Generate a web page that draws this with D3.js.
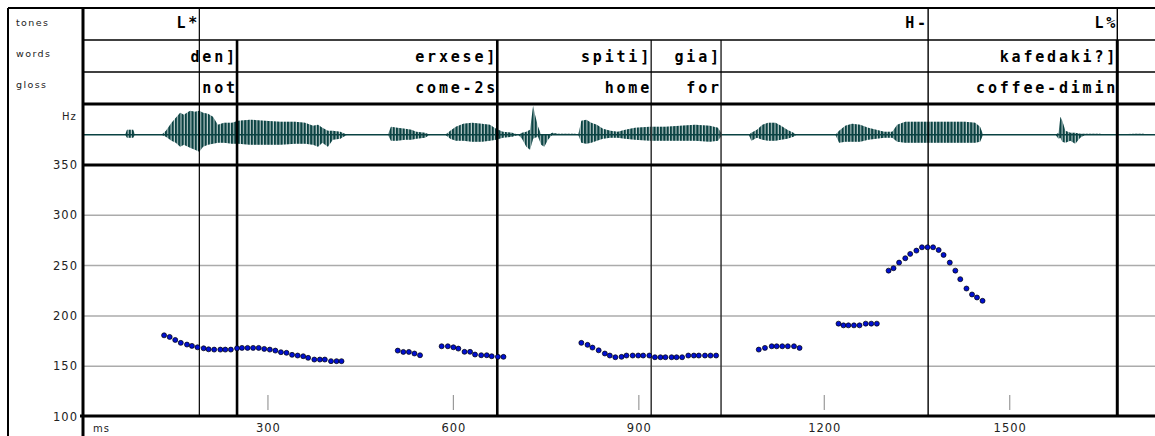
<!DOCTYPE html>
<html><head><meta charset="utf-8">
<script src="https://cdn.jsdelivr.net/npm/d3@7"></script>
<style>html,body{margin:0;padding:0;background:#fff;} svg{display:block;}</style>
</head><body><svg id="chart" width="1155" height="436"></svg>
<script>
// ---------------- data ----------------
const tierNames = ["tones", "words", "gloss"];
const toneLabels = ["L*", "H-", "L%"];
const toneTimes = [189, 1368, 1674];
const wordLabels = ["den]", "erxese]", "spiti]", "gia]", "kafedaki?]"];
const wordTimes = [250, 671, 920, 1033, 1674];
const glossLabels = ["not", "come-2s", "home", "for", "coffee-dimin"];
const hzTicks = [100, 150, 200, 250, 300, 350];
const msTicks = [300, 600, 900, 1200, 1500];

const pitchTime = [132,141,150,159,169,177,186,196,204,213,223,231,240,250,258,267,276,285,294,303,312,321,330,339,348,357,365,375,384,392,402,411,419,
  510,519,528,537,546,
  581,591,600,608,618,627,635,645,654,662,672,681,
  807,817,825,835,845,853,862,872,880,890,899,907,917,926,935,943,953,961,970,980,989,997,1007,1016,1025,
  1094,1104,1115,1123,1132,1141,1151,1160,
  1223,1231,1239,1248,1257,1267,1276,1285,
  1304,1312,1321,1331,1339,1349,1358,1367,1376,1385,1393,1403,1412,1420,1430,1439,1447,1456];
const pitchHz = [180.7,179.1,176.1,173.2,171.5,170.2,168.8,167.8,166.8,166.5,166.5,166.5,166.5,167.8,168.2,168.2,168.2,168.2,167.2,166.5,165.5,163.9,163.3,161.3,160.6,159.9,158.3,156.6,156.6,156.6,155.0,155.0,155.0,
  165.5,164.2,164.2,162.6,160.9,
  169.8,169.8,168.8,167.5,164.3,164.3,161.6,160.9,160.9,159.9,159.3,159.3,
  173.2,171.2,168.5,165.8,162.6,160.6,158.9,159.3,160.6,160.6,160.6,160.6,160.6,158.9,158.9,158.9,158.9,158.9,158.9,160.6,160.6,160.6,160.6,160.6,160.6,
  166.5,168.2,169.8,169.8,169.8,169.8,169.8,168.2,
  192.3,190.6,190.6,190.6,190.6,192.3,192.3,192.3,
  245.0,247.4,253.0,257.3,261.6,264.9,268.2,268.2,268.2,265.5,260.6,253.0,245.0,236.5,227.2,221.3,218.3,215.0];

// waveform envelope (time in ms, positive and negative amplitude, arbitrary units)
const waveTime = [69,72,82,85,
  128,135,144,151,158,164,174,182,189,195,203,211,219,229,242,252,271,295,320,344,360,373,381,388,397,405,417,428,
  494,499,509,522,532,540,554,562,
  587,595,604,616,630,646,659,669,680,695,705,711,718,724,729,732,737,742,747,753,760,769,797,802,
  807,815,823,832,842,854,866,878,894,918,943,967,991,1015,1028,1035,
  1078,1082,1091,1100,1109,1121,1130,1140,1150,1155,
  1218,1224,1234,1245,1258,1271,1284,1297,1310,1318,1331,1355,1379,1404,1428,1444,1452,1457,
  1574,1579,1582,1585,1590,1598,1606,1614,1622,1646,1653,1703,1716,1724];
const waveUp = [0,5,5,0,
  0,4,12,17,22,20,24,23,24,22,21,18,10,12,12,14,15,14,13,13,12,9,10,7,4,4,3,0,
  0,8,7,6,5,3,2,0,
  0,4,8,11,12,11,10,6,3,2,0,2,3,5,29,20,8,0,0,0,2,1,1,0,
  14,15,12,10,6,4,3,5,7,8,8,9,10,9,7,0,
  0,2,5,10,12,12,9,5,2,0,
  0,4,9,11,10,7,5,3,3,10,13,13,13,13,13,12,8,0,
  0,2,18,14,4,2,2,1,1,1,0,1,1,0];
const waveDown = [0,3,3,0,
  0,2,6,8,12,10,13,15,17,12,10,9,8,8,9,9,10,10,10,9,9,10,12,8,12,5,4,0,
  0,6,6,5,5,4,3,0,
  0,4,6,6,7,7,6,5,3,2,0,4,12,15,4,3,2,10,12,5,0,0,0,0,
  8,9,8,6,4,3,3,4,5,6,6,6,6,7,6,0,
  0,6,3,5,6,6,5,4,2,0,
  0,8,7,7,7,5,4,3,3,7,8,8,8,8,8,8,7,0,
  0,4,3,7,8,6,9,3,0,0,0,0,0,0];

// ---------------- layout ----------------
const W = 1155, H = 436;
const colL = 8, plotL = 83, topY = 8;
const rowBottoms = [40, 72, 104];
const svg = d3.select("#chart");
svg.append("rect").attr("width", W).attr("height", H).attr("fill", "#fff");

const x = d3.scaleLinear().domain([0, 1735]).range([82.5, 1155]);
const y = d3.scaleLinear().domain([100, 350]).range([416.5, 165]);
const yWave = d3.scaleLinear().domain([-30, 30]).range([164.7, 104.7]);

const defs = svg.append("defs");
const pat = defs.append("pattern").attr("id", "stripes").attr("patternUnits", "userSpaceOnUse")
  .attr("width", 3.3).attr("height", 10);
pat.append("rect").attr("width", 2.2).attr("height", 10).attr("fill", "#0a4242");

// gridlines
svg.append("g").selectAll("line").data(hzTicks.filter(v => v > 100 && v < 350)).join("line")
  .attr("x1", plotL + 1).attr("x2", W).attr("y1", d => y(d)).attr("y2", d => y(d))
  .attr("stroke", "#ababab").attr("stroke-width", 1.5);

// ms tick marks
svg.append("g").selectAll("line").data(msTicks).join("line")
  .attr("x1", d => x(d)).attr("x2", d => x(d)).attr("y1", 395).attr("y2", 410)
  .attr("stroke", "#9a9a9a").attr("stroke-width", 1.2);

// waveform
const waveData = waveTime.map((t, i) => ({ t, up: waveUp[i], down: waveDown[i] }));
svg.append("line").attr("x1", plotL).attr("x2", W).attr("y1", yWave(0)).attr("y2", yWave(0))
  .attr("stroke", "#0a4242").attr("stroke-width", 1.5);
const area = d3.area().x(d => x(d.t)).y0(d => yWave(-d.down)).y1(d => yWave(d.up));
svg.append("path").datum(waveData).attr("d", area).attr("fill", "#0a4242").attr("opacity", 0.25);
svg.append("path").datum(waveData).attr("d", area).attr("fill", "url(#stripes)");

// boundary lines
const toneW = [1.2, 1.4, 1.4];
const wordW = [2.6, 2.6, 1.5, 1.5, 3];
const wordC = ["#000", "#000", "#333", "#333", "#000"];
svg.append("g").selectAll("line").data(toneTimes).join("line")
  .attr("x1", d => x(d)).attr("x2", d => x(d)).attr("y1", topY).attr("y2", 416)
  .attr("stroke", "#000").attr("stroke-width", (d, i) => toneW[i]);
svg.append("g").selectAll("line").data(wordTimes).join("line")
  .attr("x1", d => x(d)).attr("x2", d => x(d)).attr("y1", rowBottoms[0]).attr("y2", 416)
  .attr("stroke", (d, i) => wordC[i]).attr("stroke-width", (d, i) => wordW[i]);

// frame lines
const hl = (x1, x2, yy, w) => svg.append("line").attr("x1", x1).attr("x2", x2).attr("y1", yy).attr("y2", yy)
  .attr("stroke", "#000").attr("stroke-width", w);
hl(colL, W, topY, 2);
hl(plotL, W, rowBottoms[0], 1.5);
hl(plotL, W, rowBottoms[1], 1.5);
hl(plotL, W, rowBottoms[2], 3);
hl(plotL, W, y(350), 3);
hl(plotL - 3, W, y(100) - 0.5, 3);
svg.append("line").attr("x1", colL).attr("x2", colL).attr("y1", topY).attr("y2", H).attr("stroke", "#000").attr("stroke-width", 2);
svg.append("line").attr("x1", plotL).attr("x2", plotL).attr("y1", topY).attr("y2", H).attr("stroke", "#000").attr("stroke-width", 3);

// pitch points
svg.append("g").selectAll("circle").data(pitchTime.map((t, i) => [t, pitchHz[i]])).join("circle")
  .attr("cx", d => x(d[0])).attr("cy", d => y(d[1])).attr("r", 2.5)
  .attr("fill", "#0010d0").attr("stroke", "#000").attr("stroke-width", 0.7);

// tier texts
const tierFont = "'DejaVu Sans Mono', monospace";
const ls = 2.8;
const baseY = [28, 61.5, 93];
function tier(labels, times, by) {
  svg.append("g").selectAll("text").data(labels).join("text")
    .attr("x", (d, i) => x(times[i]) - 2 + ls).attr("y", by)
    .attr("text-anchor", "end").attr("font-family", tierFont).attr("font-weight", "bold")
    .attr("font-size", 15).attr("letter-spacing", ls).attr("fill", "#000").text(d => d);
}
tier(toneLabels, toneTimes, baseY[0]);
tier(wordLabels, wordTimes, baseY[1]);
tier(glossLabels, glossLabels.map((d, i) => wordTimes[i]), baseY[2]);

// tier names
svg.append("g").selectAll("text").data(tierNames).join("text")
  .attr("x", 16).attr("y", (d, i) => [26, 57, 88][i])
  .attr("font-family", "'DejaVu Sans', sans-serif").attr("font-size", 9.5).attr("letter-spacing", 1.4)
  .attr("fill", "#222").text(d => d);

// axes
const axFont = "'DejaVu Sans', sans-serif";
const yAxis = svg.append("g").attr("transform", "translate(78,0)")
  .call(d3.axisLeft(y).tickValues(hzTicks).tickSize(0).tickPadding(0).tickFormat(d3.format("d")));
yAxis.select(".domain").remove();
yAxis.selectAll("text").attr("font-family", axFont).attr("font-size", 11.5).attr("letter-spacing", 1).attr("fill", "#222");

const xAxis = svg.append("g").attr("transform", "translate(0,416)")
  .call(d3.axisBottom(x).tickValues(msTicks).tickSize(0).tickPadding(8).tickFormat(d3.format("d")));
xAxis.select(".domain").remove();
xAxis.selectAll("text").attr("font-family", axFont).attr("font-size", 11.5).attr("letter-spacing", 1).attr("fill", "#222");

svg.append("text").attr("x", 62).attr("y", 120).attr("font-family", axFont).attr("font-size", 10)
  .attr("letter-spacing", 1).attr("fill", "#222").text("Hz");
svg.append("text").attr("x", 93).attr("y", 432).attr("font-family", axFont).attr("font-size", 10)
  .attr("letter-spacing", 1).attr("fill", "#222").text("ms");
</script></body></html>
